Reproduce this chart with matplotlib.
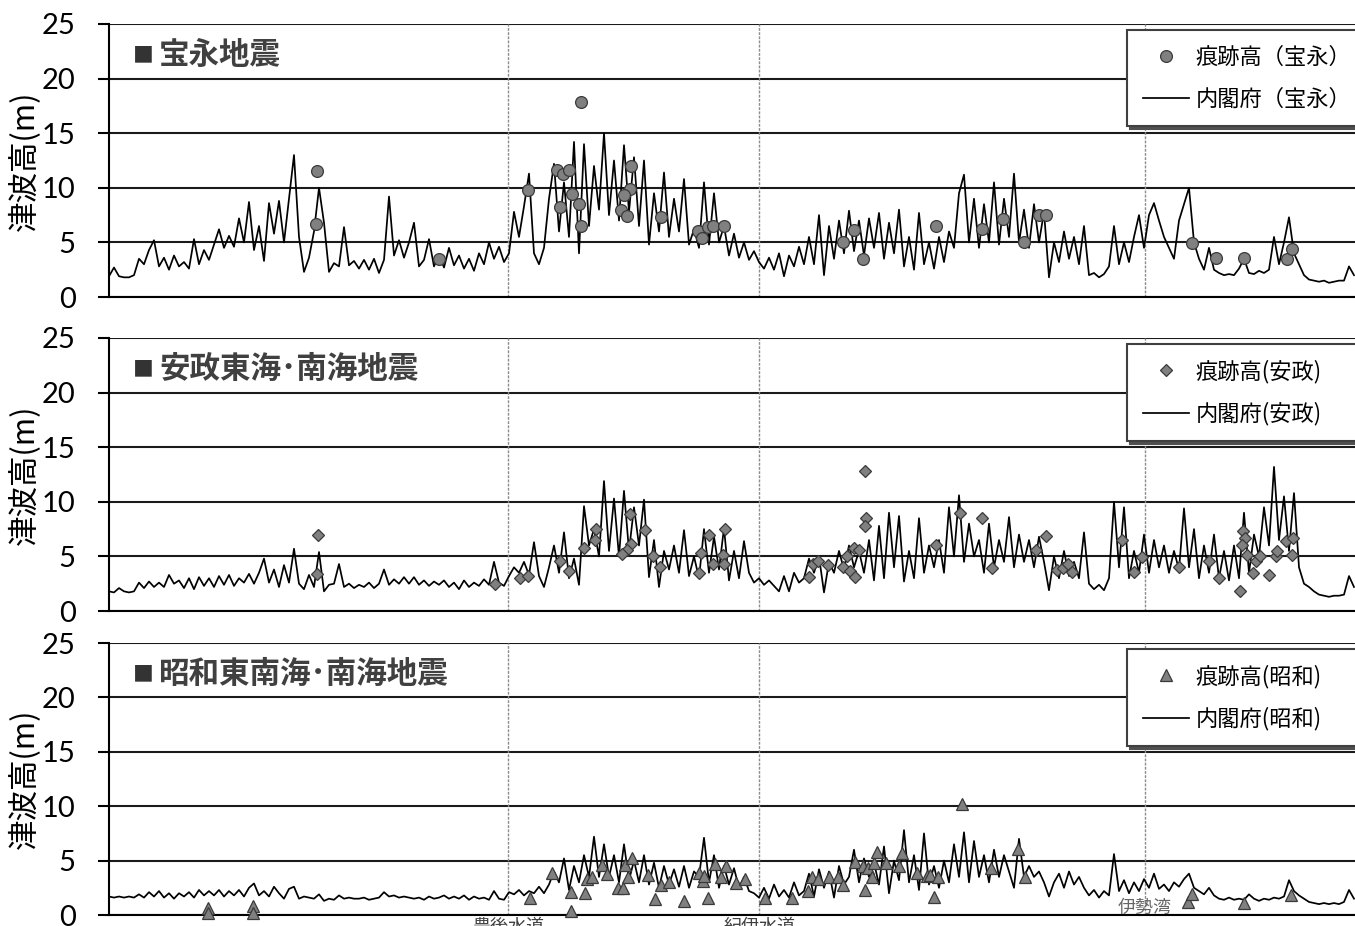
import numpy as np
import matplotlib.pyplot as plt

plt.rcParams['font.family'] = ['Noto Sans CJK JP', 'DejaVu Sans']

##### DATA #####
# coast position is in the chart's own distance units (0 .. 1246)
STEP = 5  # spacing of the 内閣府 model curve samples

hoei_line = [
    1.9, 2.7, 1.9, 1.8, 1.8, 2.0, 3.5, 3.0, 4.3, 5.2,
    2.8, 3.6, 2.5, 3.8, 2.8, 3.2, 2.6, 5.3, 3.0, 4.3,
    3.4, 4.8, 6.2, 4.5, 5.6, 4.6, 7.2, 5.0, 8.7, 4.3,
    6.5, 3.3, 8.6, 5.8, 8.8, 5.0, 9.0, 13.0, 5.5, 2.3,
    3.6, 6.0, 10.0, 6.8, 2.3, 3.1, 2.8, 6.4, 2.9, 3.3,
    2.6, 3.4, 2.5, 3.5, 2.2, 3.4, 9.2, 3.8, 5.2, 3.6,
    5.0, 6.8, 2.8, 3.4, 5.3, 2.8, 3.9, 2.7, 4.5, 2.9,
    3.8, 2.6, 3.5, 2.4, 4.0, 3.0, 5.0, 3.5, 4.6, 3.2,
    4.0, 7.8, 5.5, 8.3, 11.3, 4.0, 3.0, 4.5, 9.0, 12.2,
    6.0, 10.5, 5.5, 14.2, 4.0, 14.0, 6.5, 12.0, 8.0, 15.0,
    7.5, 12.5, 7.0, 13.9, 7.8, 12.8, 6.5, 12.5, 4.8, 9.5,
    6.0, 11.4, 5.5, 9.0, 6.0, 10.8, 4.8, 6.2, 4.5, 10.5,
    4.8, 9.5, 5.0, 6.5, 3.8, 5.8, 3.6, 5.0, 3.4, 4.2,
    3.2, 2.6, 3.6, 2.5, 4.0, 1.9, 3.8, 2.8, 4.6, 3.0,
    5.5, 3.0, 7.5, 2.0, 6.5, 3.5, 7.0, 4.0, 7.9, 4.2,
    7.0, 3.8, 7.2, 4.5, 7.7, 3.5, 6.8, 4.0, 8.0, 2.8,
    5.5, 2.5, 7.7, 3.0, 5.0, 2.6, 5.5, 3.2, 6.0, 4.5,
    9.5, 11.2, 5.0, 9.0, 4.5, 8.5, 5.0, 10.5, 4.8, 9.0,
    5.5, 11.3, 5.0, 8.0, 4.5, 8.5, 5.0, 7.8, 1.8, 5.0,
    3.2, 6.0, 3.5, 5.5, 3.0, 6.5, 2.0, 2.2, 1.8, 2.1,
    2.8, 6.5, 3.0, 5.0, 3.2, 5.5, 7.5, 4.5, 7.5, 8.6,
    7.0, 5.5, 4.5, 3.5, 7.0, 8.5, 10.0, 5.0, 3.5, 2.5,
    4.5, 2.5, 2.2, 2.0, 2.1, 2.0, 2.6, 3.5, 2.2, 2.1,
    2.4, 2.2, 2.5, 5.5, 3.0, 5.0, 7.3, 4.0, 3.0, 2.0,
    1.6, 1.5, 1.4, 1.5, 1.3, 1.4, 1.5, 1.5, 2.8, 2.0,
]

ansei_line = [
    1.8, 1.7, 2.1, 1.8, 1.7, 1.8, 2.6, 2.1, 2.7, 2.2,
    2.6, 2.2, 3.3, 2.5, 2.8, 2.1, 3.0, 2.0, 3.1, 2.3,
    3.0, 2.2, 3.2, 2.4, 3.3, 2.3, 3.0, 2.6, 3.4, 2.5,
    3.5, 4.8, 2.6, 3.8, 2.2, 4.2, 2.6, 5.7, 2.5, 2.0,
    3.3, 2.2, 5.4, 1.8, 2.4, 2.5, 4.3, 2.2, 2.5, 2.1,
    2.4, 2.2, 2.6, 2.1, 2.5, 3.8, 2.4, 2.9, 2.5, 3.1,
    2.5, 3.1, 2.4, 2.8, 2.3, 2.7, 2.4, 2.8, 2.2, 2.6,
    2.0, 2.8, 2.2, 2.6, 2.3, 2.9, 2.4, 4.5, 2.6, 2.3,
    3.2, 4.0, 3.5, 4.5, 3.3, 6.3, 3.2, 2.2, 4.0, 6.0,
    3.5, 7.2, 3.0, 4.8, 2.4, 9.6, 6.0, 7.5, 5.0, 11.9,
    5.5, 10.3, 5.0, 11.0, 5.5, 9.5, 6.0, 10.2, 3.1, 6.5,
    2.2, 5.5, 3.8, 6.0, 3.5, 7.4, 3.2, 5.0, 3.0, 7.5,
    3.5, 6.8, 3.8, 7.6, 2.8, 5.5, 3.0, 6.4, 3.5, 2.6,
    3.0, 2.4, 2.8, 2.3, 1.8, 3.2, 1.8, 3.5, 2.6, 3.0,
    4.8, 3.5, 5.0, 1.7, 4.5, 3.5, 5.5, 3.8, 6.0, 4.0,
    5.5, 3.5, 6.5, 2.8, 7.8, 3.0, 9.0, 4.0, 8.7, 2.7,
    5.5, 3.0, 8.5, 3.5, 6.0, 4.0, 6.5, 3.5, 9.5, 5.0,
    10.6, 4.5, 8.0, 5.0, 6.5, 3.5, 8.0, 4.0, 6.5, 4.5,
    8.6, 4.0, 7.0, 4.5, 6.5, 4.0, 6.8, 4.5, 1.9, 5.0,
    3.0, 5.5, 3.2, 4.5, 3.0, 7.2, 2.5, 2.0, 2.4, 1.9,
    3.0, 10.0, 4.0, 9.5, 3.0, 5.5, 3.5, 7.0, 3.5, 6.5,
    4.0, 6.0, 3.5, 5.5, 3.8, 9.4, 4.0, 7.5, 3.0, 6.0,
    3.5, 7.0, 3.0, 5.5, 2.8, 6.0, 3.0, 9.0, 3.5, 7.0,
    5.0, 9.5, 6.0, 13.2, 6.5, 10.5, 5.5, 10.8, 4.0, 2.5,
    2.2, 1.8, 1.5, 1.4, 1.3, 1.4, 1.4, 1.5, 3.2, 2.2,
]

showa_line = [
    1.7, 1.6, 1.7, 1.6, 1.7, 1.6, 1.9, 1.6, 2.1, 1.7,
    2.2, 1.6, 2.0, 1.5, 2.0, 1.7, 2.1, 1.6, 2.3, 1.8,
    2.2, 1.8, 2.3, 1.7, 2.2, 1.8, 2.3, 1.7, 2.5, 2.9,
    1.8, 2.2, 1.7, 2.6, 2.0, 1.5, 2.4, 2.6, 1.5, 1.7,
    1.6, 1.5, 1.9, 1.3, 1.5, 1.4, 1.8, 1.5, 1.6, 1.5,
    1.5, 1.6, 1.4, 1.5, 1.6, 2.1, 1.7, 1.8, 1.6, 1.7,
    1.6, 1.5, 1.6, 1.4, 1.7, 1.5, 1.6, 1.8, 1.5, 1.7,
    1.5, 1.8, 1.4, 1.7, 1.5, 1.6, 1.4, 2.2, 1.5, 1.4,
    2.1, 1.9, 2.3, 1.8, 2.2, 2.0, 2.6, 2.0, 2.8, 4.0,
    3.0, 5.2, 2.3, 4.5, 3.0, 5.5, 3.5, 7.2, 3.5, 6.5,
    3.5, 5.5, 3.0, 6.5, 3.2, 5.0, 3.0, 5.5, 2.8, 4.8,
    2.5, 4.5, 2.8, 4.2, 2.6, 4.5, 2.5, 4.0, 3.5, 7.1,
    3.0, 5.5, 2.5, 4.5, 2.8, 4.3, 2.5, 3.5, 2.2, 2.0,
    1.6, 2.5, 1.5, 2.8, 1.7, 2.3, 1.6, 3.0, 1.8, 2.2,
    3.8, 1.7, 4.2, 2.5, 4.0, 1.6, 4.5, 2.8, 3.5, 6.0,
    3.0, 5.2, 3.5, 4.8, 2.8, 6.3, 2.0, 5.0, 3.2, 7.8,
    3.0, 5.5, 2.3, 7.5, 2.8, 4.5, 2.5, 5.0, 3.0, 6.5,
    3.5, 7.6, 3.0, 6.8, 3.5, 5.5, 3.0, 6.0, 3.5, 5.5,
    4.0, 2.5, 7.0, 3.5, 4.5, 3.5, 4.0, 3.0, 1.7, 3.0,
    3.8, 2.5, 4.0, 2.8, 3.5, 2.5, 1.8, 2.3, 1.6, 2.2,
    1.8, 5.6, 2.2, 3.2, 2.0, 3.0, 2.2, 3.3, 2.5, 3.8,
    2.4, 2.8, 2.2, 3.0, 2.6, 3.3, 3.8, 2.5, 2.2, 1.9,
    2.5, 1.8, 1.5, 1.4, 1.6, 1.4, 1.5, 1.4, 1.9, 1.5,
    1.3, 1.5, 1.4, 1.6, 1.5, 1.7, 3.2, 2.2, 1.8, 1.5,
    1.2, 1.1, 1.0, 1.1, 1.0, 1.1, 1.0, 1.2, 2.3, 1.5,
]

# observed run-up heights (痕跡高)
hoei_obs_x = [208, 207, 330, 419, 448, 454, 460, 463, 451, 470, 472, 472,
              522, 521, 515, 512, 518, 552, 589, 593, 599, 604, 615, 734,
              745, 754, 827, 873, 894, 915, 930, 937, 1083, 1107, 1135,
              1178, 1183]
hoei_obs_y = [11.5, 6.7, 3.5, 9.8, 11.6, 11.3, 11.6, 9.4, 8.2, 8.5, 6.5, 17.9,
              12.0, 9.9, 9.3, 8.0, 7.4, 7.3, 6.0, 5.4, 6.4, 6.5, 6.5, 5.0,
              6.1, 3.5, 6.5, 6.2, 7.1, 5.0, 7.5, 7.5, 4.9, 3.6, 3.6,
              3.5, 4.4]

ansei_obs_x = [209, 208, 386, 411, 419, 451, 460, 475, 486, 487, 521, 522,
               518, 513, 536, 544, 551, 590, 592, 600, 604, 616, 614, 615,
               700, 704, 709, 719, 734, 741, 746, 738, 745, 750, 756, 757,
               756, 827, 851, 873, 883, 927, 937, 948, 954, 959, 963, 1013,
               1025, 1033, 1070, 1100, 1110, 1131, 1134, 1136, 1133, 1138,
               1147, 1151, 1144, 1160, 1167, 1168, 1177, 1184, 1183]
ansei_obs_y = [7.0, 3.4, 2.5, 3.0, 3.2, 4.6, 3.7, 5.8, 6.5, 7.5, 8.9, 6.1,
               5.6, 5.2, 7.4, 5.0, 4.0, 3.5, 5.3, 7.0, 4.3, 7.5, 5.1, 4.3,
               3.1, 4.3, 4.6, 4.2, 4.0, 3.7, 3.1, 5.0, 5.8, 5.6, 12.8, 8.5,
               7.8, 6.0, 9.0, 8.5, 3.9, 5.6, 6.9, 3.8, 3.9, 4.3, 3.6, 6.5,
               3.6, 4.9, 4.0, 4.6, 3.0, 1.8, 7.3, 6.7, 6.0, 5.1,
               4.6, 5.0, 3.5, 3.3, 5.0, 5.5, 6.4, 6.7, 5.1]

showa_obs_x = [99, 99, 144, 144, 421, 443, 462, 462, 476, 478, 483, 493, 498,
               509, 514, 516, 523, 519, 539, 546, 552, 560, 575, 590, 594,
               595, 599, 606, 612, 617, 627, 636, 656, 683, 699, 703, 709,
               720, 729, 734, 746, 754, 756, 759, 763, 765, 768, 777, 790,
               793, 808, 818, 821, 825, 829, 853, 882, 909, 916, 1079, 1083,
               1135, 1182]
showa_obs_y = [0.6, 0.2, 0.85, 0.2, 1.6, 3.9, 2.1, 0.4, 2.0, 3.3, 3.5, 4.6, 3.8,
               2.5, 2.5, 4.6, 5.2, 3.5, 3.7, 1.5, 2.8, 3.0, 1.3, 3.9, 3.1,
               3.6, 1.6, 4.7, 3.5, 4.5, 2.9, 3.3, 1.6, 1.6, 2.2, 3.5, 3.3,
               3.5, 3.5, 2.8, 4.9, 4.5, 2.3, 4.3, 3.5, 4.8, 5.8, 4.8, 4.5,
               5.7, 3.9, 3.6, 3.7, 1.7, 3.5, 10.2, 4.3, 6.1, 3.5, 1.2, 1.9,
               1.1, 1.8]

titles = ['宝永地震', '安政東海･南海地震', '昭和東南海･南海地震']
obs_labels = ['痕跡高（宝永）', '痕跡高(安政)', '痕跡高(昭和)']
model_labels = ['内閣府（宝永）', '内閣府(安政)', '内閣府(昭和)']
markers = ['o', 'D', '^']
marker_sizes = [8.5, 6.2, 9.0]

boundary_x = [399, 650, 1036]
boundary_names = ['豊後水道', '紀伊水道', '伊勢湾']

lines = [hoei_line, ansei_line, showa_line]
obs = [(hoei_obs_x, hoei_obs_y), (ansei_obs_x, ansei_obs_y), (showa_obs_x, showa_obs_y)]

##### PLOT #####
W, H = 1355, 926
fig = plt.figure(figsize=(W / 100, H / 100), dpi=100)

# panel tops / bottoms in pixels
panel_px = [(24, 297), (338, 611), (643, 915)]
left_px = 109
span = W - left_px

axes = []
for i, (top, bot) in enumerate(panel_px):
    ax = fig.add_axes([left_px / W, 1 - bot / H, 1 - left_px / W, (bot - top) / H])
    axes.append(ax)

    pos = np.arange(len(lines[i])) * STEP
    ax.plot(pos, lines[i], color='black', lw=1.25, zorder=3, label=model_labels[i])

    ox, oy = obs[i]
    ax.plot(ox, oy, linestyle='none', marker=markers[i], ms=marker_sizes[i],
            mfc='#808080', mec='#3a3a3a', mew=0.9, zorder=4, clip_on=False,
            label=obs_labels[i])

    for bx in boundary_x:
        ax.axvline(bx, color='#8c8c8c', lw=1.0, ls=(0, (2, 1)), zorder=2)

    ax.set_xlim(0, span)
    ax.set_ylim(0, 25)
    ax.set_yticks(range(0, 26, 5))
    ax.yaxis.grid(True, color='#1a1a1a', lw=1.5)
    ax.set_axisbelow(True)
    ax.tick_params(axis='x', bottom=False, labelbottom=False)
    ax.tick_params(axis='y', length=8, width=1.5, pad=16, labelsize=21,
                   labelfontfamily='Lato', colors='black')
    for s in ['top', 'right']:
        ax.spines[s].set_visible(False)
    for s in ['left', 'bottom']:
        ax.spines[s].set_linewidth(1.5)
        ax.spines[s].set_color('black')

    # panel title: small square bullet + bold name
    ax.text((133 - left_px) / span, 0.886, '■', transform=ax.transAxes, fontsize=15,
            color='#333333', va='center', ha='left')
    ax.text((159 - left_px) / span, 0.886, titles[i], transform=ax.transAxes, fontsize=22,
            fontweight='bold', color='#404040', va='center', ha='left')

    fig.text(25 / W, 1 - (top + bot) / 2 / H, '津波高(m)', rotation=90,
             ha='center', va='center', fontsize=22)

    handles, labels = ax.get_legend_handles_labels()
    x0 = (1127 - left_px) / span
    y1 = (bot - (top + 6)) / (bot - top)
    h = 101 / (bot - top)
    leg = ax.legend(handles[::-1], labels[::-1], loc='upper left', mode='expand',
                    bbox_to_anchor=(x0, y1 - h, (1380 - 1127) / span, h),
                    borderaxespad=0, fontsize=16, handlelength=2.1, handletextpad=0.3,
                    borderpad=0.7, labelspacing=0.85, fancybox=False, framealpha=1,
                    edgecolor='#404040', shadow={'color': '#505050', 'alpha': 1.0})
    leg.get_frame().set_linewidth(1.5)
    leg.set_zorder(10)

##### X LABELS #####
ax3 = axes[2]
for bx, name in zip(boundary_x[:2], boundary_names[:2]):
    ax3.text(bx, -0.3, name, ha='center', va='top', fontsize=13, color='#404040', clip_on=False)
ax3.text(boundary_x[2], 0.65, boundary_names[2], ha='center', va='center', fontsize=13,
         color='#666666', zorder=5)

fig.savefig('out.png', dpi=100)
